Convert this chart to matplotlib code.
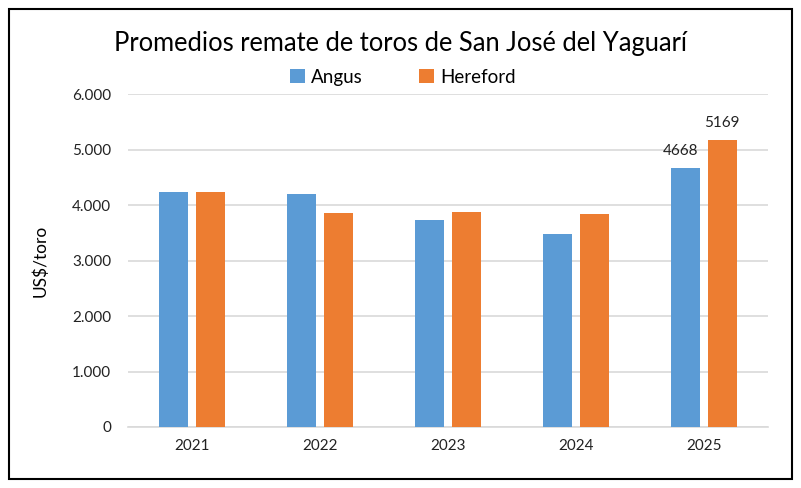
import matplotlib.pyplot as plt
import numpy as np
from matplotlib.patches import Rectangle
from matplotlib.ticker import FuncFormatter

years = ['2021', '2022', '2023', '2024', '2025']
angus = [4230, 4200, 3730, 3475, 4668]
hereford = [4230, 3855, 3870, 3835, 5169]

plt.rcParams['font.family'] = ['Lato', 'DejaVu Sans']

fig = plt.figure(figsize=(8.01, 4.88), dpi=100)
ax = fig.add_axes([0.1598, 0.125, 0.799, 0.682])

x = np.arange(len(years))
w = 0.225
gap = 0.06
b1 = ax.bar(x - (w + gap) / 2, angus, w, color='#5B9BD5', label='Angus', zorder=3)
b2 = ax.bar(x + (w + gap) / 2, hereford, w, color='#ED7D31', label='Hereford', zorder=3)

# only the 2025 bars carry labels
ax.text(x[-1] - (w + gap) / 2 - 0.04, angus[-1] + 180, str(angus[-1]),
        ha='center', va='bottom', fontsize=11, color='#222222')
ax.text(x[-1] + (w + gap) / 2, hereford[-1] + 180, str(hereford[-1]),
        ha='center', va='bottom', fontsize=11, color='#222222')

ax.set_xlim(-0.5, len(years) - 0.5)
ax.set_ylim(0, 6000)
ax.set_yticks(range(0, 6001, 1000))
ax.yaxis.set_major_formatter(FuncFormatter(lambda v, p: f'{int(v):,}'.replace(',', '.')))
ax.set_xticks(x)
ax.set_xticklabels(years)
ax.tick_params(axis='both', length=0, labelsize=11, colors='#222222')
ax.tick_params(axis='y', pad=12)
ax.tick_params(axis='x', pad=9)
ax.grid(axis='y', color='#D9D9D9', linewidth=1.2, zorder=0)
for s in ['top', 'right', 'left']:
    ax.spines[s].set_visible(False)
ax.spines['bottom'].set_color('#D9D9D9')
ax.spines['bottom'].set_linewidth(1.2)
ax.set_ylabel('US$/toro', fontsize=12.5, labelpad=17)

fig.text(0.5, 0.91, 'Promedios remate de toros de San José del Yaguarí',
         ha='center', va='center', fontsize=18.4)
fig.legend(handles=[b1, b2], loc='center', bbox_to_anchor=(0.503, 0.842), ncol=2,
           frameon=False, fontsize=13.5, handlelength=0.8, handleheight=0.8,
           handletextpad=0.35, columnspacing=3.0)

fig.patches.append(Rectangle((0.011, 0.018), 0.978, 0.964, transform=fig.transFigure,
                             fill=False, edgecolor='black', linewidth=1.5))

fig.savefig('out.png', dpi=100)
